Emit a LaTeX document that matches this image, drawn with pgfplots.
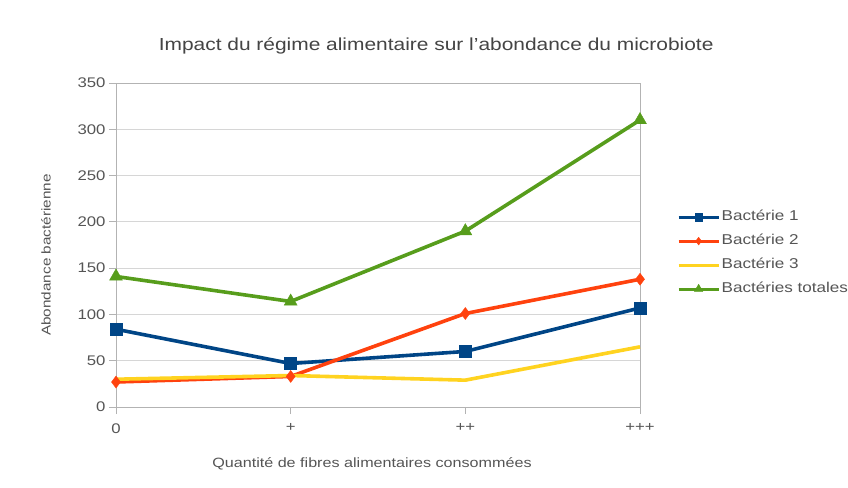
\documentclass[border=0pt]{standalone}
\usepackage{fontspec}
\setmainfont{Liberation Sans}[FakeStretch=1.2]
\usepackage{pgfplots}
\pgfplotsset{compat=1.18}
\definecolor{c1}{HTML}{004586}
\definecolor{c2}{HTML}{FF420E}
\definecolor{c3}{HTML}{FFD320}
\definecolor{c4}{HTML}{579D1C}
\definecolor{txt}{HTML}{555555}
\definecolor{ttl}{HTML}{444444}
\definecolor{gridc}{HTML}{D6D6D6}
\definecolor{axc}{HTML}{B3B3B3}
\begin{document}
\begin{tikzpicture}
\path[use as bounding box] (-116bp,-81bp) rectangle (732bp,407bp);
\begin{axis}[
  scale only axis, width=524bp, height=324bp,
  at={(0,0)}, anchor=south west,
  clip=false,
  xmin=0, xmax=3, ymin=0, ymax=350,
  xtick={0,1,2,3}, xticklabels={0,+,++,+++},
  ytick={0,50,...,350},
  ymajorgrids, grid style={gridc, line width=0.9bp},
  axis line style={axc, line width=0.9bp},
  tick style={axc, line width=0.9bp},
  tick align=outside, tick pos=left,
  major tick length=7bp,
  /pgf/number format/assume math mode=true,
  ticklabel style={font=\fontsize{14}{16}\selectfont, text=txt},
  xticklabel style={yshift=-6bp},
  title={Impact du régime alimentaire sur l'abondance du microbiote},
  title style={at={(0.611,1.097)}, anchor=center, font=\fontsize{17.5}{20}\selectfont, text=ttl},
  xlabel={Quantité de fibres alimentaires consommées},
  xlabel style={at={(axis description cs:0.4885,-0.175)}, anchor=center, font=\fontsize{13.5}{15}\selectfont, text=txt},
  ylabel={Abondance bactérienne},
  ylabel style={at={(axis description cs:-0.1336,0.469)}, anchor=center, font=\fontsize{12.8}{14}\selectfont, text=txt},
  legend image code/.code={\draw[mark repeat=2,mark phase=2,#1, line width=3bp, every mark/.append style={scale=0.65}] plot coordinates {(0bp,0bp) (20bp,0bp) (40bp,0bp)};},
  legend style={at={(1.0705,0.475)}, anchor=west, draw=none, fill=none, inner sep=0pt,
    font=\fontsize{14.3}{16}\selectfont, text=txt, row sep=11bp,
    nodes={inner ysep=0pt, inner xsep=1.5bp, text height=10bp, text depth=3bp}},
  legend cell align=left,
]
\addplot[c1, line width=3.6bp, mark=square*, mark size=6bp, mark options={line width=0.4bp}] coordinates {(0,84) (1,47) (2,60) (3,107)};
\addlegendentry{Bactérie 1}
\addplot[c2, line width=3.6bp, mark=diamond*, mark size=6bp, mark options={line width=0.4bp}] coordinates {(0,27) (1,33) (2,101) (3,138)};
\addlegendentry{Bactérie 2}
\addplot[c3, line width=3.6bp] coordinates {(0,30) (1,34) (2,29) (3,65)};
\addlegendentry{Bactérie 3}
\addplot[c4, line width=3.6bp, mark=triangle*, mark size=7.5bp, mark options={line width=0.4bp}] coordinates {(0,141) (1,114) (2,190) (3,310)};
\addlegendentry{Bactéries totales}
\end{axis}
\end{tikzpicture}
\end{document}
